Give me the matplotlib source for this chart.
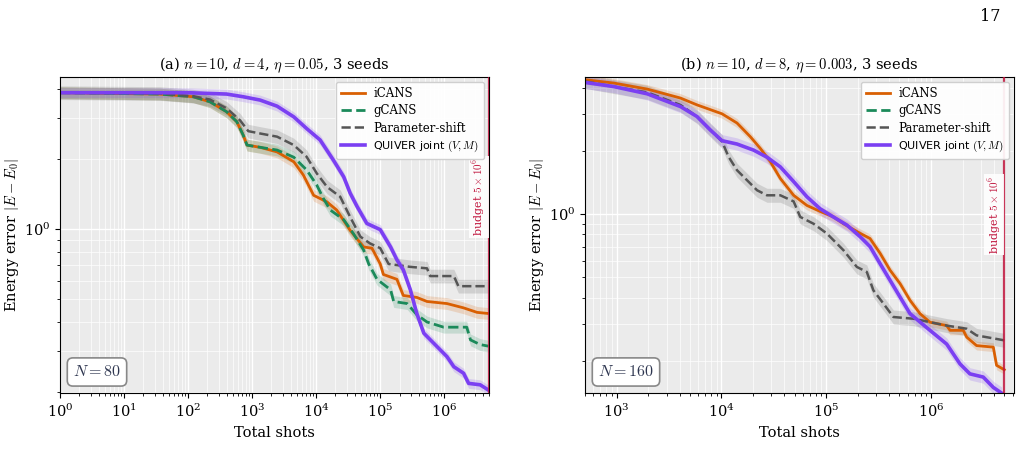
import matplotlib.pyplot as plt
import numpy as np
from matplotlib.ticker import NullFormatter

plt.rcParams['font.family'] = 'DejaVu Serif'
plt.rcParams['mathtext.fontset'] = 'cm'

BUDGET = 5e6

# ---- panel (a): n=10, d=4 ----
a_icans_x = [1, 36, 120, 219, 398, 575, 724, 832, 1330, 2450, 4470, 6310, 9120, 14800, 20900, 33900, 55000,
             74100, 1e5, 112000, 182000, 229000, 372000, 537000, 1.1e6, 2e6, 3.24e6, 4.9e6]
a_icans_y = [3.86, 3.81, 3.71, 3.53, 3.20, 2.90, 2.54, 2.30, 2.25, 2.15, 1.95, 1.71, 1.40, 1.31, 1.21, 0.99, 0.84,
             0.83, 0.71, 0.64, 0.61, 0.52, 0.51, 0.49, 0.48, 0.46, 0.44, 0.435]
a_gcans_x = [1, 36, 120, 219, 398, 575, 724, 832, 1000, 2450, 4470, 7080, 10200, 12900, 16600, 26900, 38000,
             55000, 66100, 89100, 145000, 162000, 263000, 372000, 537000, 977000, 2.24e6, 2.57e6, 3.63e6, 4.9e6]
a_gcans_y = [3.86, 3.81, 3.71, 3.53, 3.20, 2.90, 2.54, 2.30, 2.28, 2.19, 2.04, 1.80, 1.55, 1.36, 1.21, 1.10, 0.96,
             0.815, 0.71, 0.61, 0.55, 0.49, 0.48, 0.43, 0.40, 0.38, 0.38, 0.335, 0.32, 0.315]
a_pshift_x = [1, 36, 120, 219, 398, 646, 871, 1330, 2450, 4470, 7080, 10200, 14800, 23700, 33900, 49000, 69200,
              1e5, 135000, 295000, 537000, 603000, 1.41e6, 1.66e6, 4.9e6]
a_pshift_y = [3.86, 3.83, 3.73, 3.61, 3.31, 2.94, 2.64, 2.58, 2.50, 2.30, 2.05, 1.74, 1.52, 1.38, 1.13, 0.93, 0.87,
              0.83, 0.71, 0.69, 0.68, 0.63, 0.63, 0.57, 0.57]
a_quiver_x = [1, 100, 398, 724, 1330, 2450, 4470, 7080, 11500, 18600, 26900, 33900, 43700, 61700, 1e5, 145000,
              182000, 229000, 295000, 372000, 479000, 776000, 1.1e6, 1.41e6, 2e6, 2.4e6, 3.63e6, 4.9e6]
a_quiver_y = [3.86, 3.86, 3.81, 3.71, 3.59, 3.38, 3.04, 2.71, 2.42, 1.98, 1.68, 1.43, 1.25, 1.06, 0.997, 0.84,
              0.74, 0.67, 0.55, 0.435, 0.358, 0.313, 0.284, 0.257, 0.241, 0.218, 0.215, 0.204]

# ---- panel (b): n=10, d=8 ----
b_icans_x = [500, 942, 1960, 4070, 5860, 10150, 14100, 18900, 23500, 29300, 36500, 48900, 65500, 87700, 117000,
             146000, 211000, 262000, 327000, 407000, 507000, 631000, 786000, 978000, 1.41e6, 1.52e6, 2.03e6,
             2.19e6, 2.72e6, 3.93e6, 4.22e6, 5e6]
b_icans_y = [4.38, 4.22, 3.95, 3.58, 3.32, 3.01, 2.72, 2.34, 2.06, 1.78, 1.48, 1.23, 1.10, 1.03, 0.97, 0.90, 0.81,
             0.765, 0.65, 0.54, 0.466, 0.388, 0.335, 0.305, 0.294, 0.279, 0.279, 0.259, 0.236, 0.232, 0.19, 0.181]
b_pshift_x = [500, 942, 1960, 4070, 5860, 7850, 10150, 11700, 14100, 17600, 21900, 27200, 36500, 48900, 56500,
              75700, 101000, 146000, 196000, 244000, 282000, 352000, 438000, 679000, 1.41e6, 2.19e6, 2.72e6, 5e6]
b_pshift_y = [4.30, 4.06, 3.81, 3.32, 2.92, 2.52, 2.22, 1.88, 1.62, 1.45, 1.30, 1.23, 1.23, 1.15, 0.97, 0.90,
              0.81, 0.673, 0.56, 0.53, 0.433, 0.374, 0.323, 0.317, 0.294, 0.284, 0.264, 0.25]
b_quiver_x = [500, 942, 1960, 4070, 5860, 7850, 10150, 14100, 20300, 27200, 36500, 48900, 65500, 87700, 117000,
              158000, 211000, 262000, 327000, 407000, 507000, 631000, 978000, 1.41e6, 1.89e6, 2.35e6, 3.15e6,
              3.93e6, 4.72e6]
b_quiver_y = [4.25, 4.06, 3.75, 3.26, 2.92, 2.52, 2.24, 2.16, 2.02, 1.87, 1.68, 1.43, 1.21, 1.06, 0.97, 0.886,
              0.78, 0.70, 0.58, 0.483, 0.402, 0.335, 0.279, 0.24, 0.193, 0.173, 0.167, 0.149, 0.14]

# relative half-width of the seed band per series
a_spread = {'iCANS': 0.06, 'gCANS': 0.06, 'Parameter-shift': 0.07, 'QUIVER': 0.05}
b_spread = {'iCANS': 0.05, 'gCANS': 0.05, 'Parameter-shift': 0.08, 'QUIVER': 0.07}

STYLES = {
    'iCANS': dict(color='#d95f02', ls='-', lw=2.0, label='iCANS'),
    'gCANS': dict(color='#1b8a5a', ls='--', lw=2.0, label='gCANS'),
    'Parameter-shift': dict(color='#555555', ls='--', lw=1.8, label='Parameter-shift'),
    'QUIVER': dict(color='#7b3ff2', ls='-', lw=2.6, label='QUIVER joint $(V, M)$'),
}


def draw_curve(ax, x, y, name, spread):
    st = STYLES[name]
    x = np.asarray(x, dtype=float)
    y = np.asarray(y, dtype=float)
    if len(x):
        ax.fill_between(x, y / (1 + spread), y * (1 + spread), color=st['color'], alpha=0.18, lw=0)
    ax.plot(x, y, color=st['color'], ls=st['ls'], lw=st['lw'], label=st['label'])


def style_axes(ax, title, n_label, budget_frac):
    ax.set_facecolor('#ebebeb')
    ax.set_xscale('log')
    ax.set_yscale('log')
    ax.grid(which='major', color='white', lw=1.0)
    ax.grid(which='minor', color='white', lw=0.5)
    ax.set_axisbelow(True)
    ax.yaxis.set_minor_formatter(NullFormatter())
    ax.tick_params(labelsize=10.5)
    ax.set_xlabel('Total shots', fontsize=10.5)
    ax.set_ylabel('Energy error $|E-E_0|$', fontsize=10.5, labelpad=2)
    ax.set_title(title, fontsize=10.5)
    ax.axvline(BUDGET, color='#c0143c', lw=1.6, alpha=0.85, zorder=5)
    ax.annotate(r'budget $5\times10^6$', xy=(BUDGET, budget_frac), xycoords=('data', 'axes fraction'),
                xytext=(-10, 0), textcoords='offset pixels', rotation=90,
                ha='center', va='center', color='#c0143c', fontsize=8, zorder=6,
                bbox=dict(boxstyle='square,pad=0.15', fc='white', ec='none', alpha=0.9))
    ax.text(0.03, 0.04, n_label, transform=ax.transAxes, fontsize=11.5, color='#2e3650',
            ha='left', va='bottom',
            bbox=dict(boxstyle='round,pad=0.35', fc='white', ec='#888888', lw=1.2))
    leg = ax.legend(loc='upper right', fontsize=8.5, framealpha=0.92, edgecolor='#cccccc',
                    handlelength=2.0, borderpad=0.45, labelspacing=0.35, handletextpad=0.7,
                    borderaxespad=0.4)
    leg.set_zorder(7)
    leg.get_texts()[3].set_family('DejaVu Sans')
    leg.get_texts()[3].set_fontsize(8)


fig = plt.figure(figsize=(10.24, 4.68), dpi=100)
ax_a = fig.add_axes([0.0586, 0.160, 0.419, 0.675])
ax_b = fig.add_axes([0.5713, 0.160, 0.419, 0.675])

draw_curve(ax_a, a_icans_x, a_icans_y, 'iCANS', a_spread['iCANS'])
draw_curve(ax_a, a_gcans_x, a_gcans_y, 'gCANS', a_spread['gCANS'])
draw_curve(ax_a, a_pshift_x, a_pshift_y, 'Parameter-shift', a_spread['Parameter-shift'])
draw_curve(ax_a, a_quiver_x, a_quiver_y, 'QUIVER', a_spread['QUIVER'])
ax_a.set_xlim(1, BUDGET)
ax_a.set_ylim(0.198, 4.5)
style_axes(ax_a, r'(a) $n = 10$, $d = 4$, $\eta = 0.05$, 3 seeds', '$N = 80$', 0.62)

draw_curve(ax_b, b_icans_x, b_icans_y, 'iCANS', b_spread['iCANS'])
draw_curve(ax_b, [], [], 'gCANS', b_spread['gCANS'])
draw_curve(ax_b, b_pshift_x, b_pshift_y, 'Parameter-shift', b_spread['Parameter-shift'])
draw_curve(ax_b, b_quiver_x, b_quiver_y, 'QUIVER', b_spread['QUIVER'])
ax_b.set_xlim(500, 6.2e6)
ax_b.set_ylim(0.14, 4.5)
style_axes(ax_b, r'(b) $n = 10$, $d = 8$, $\eta = 0.003$, 3 seeds', '$N = 160$', 0.565)

fig.text(0.977, 0.965, '17', ha='right', va='center', fontsize=11.5)

fig.savefig('out.png', dpi=100)
